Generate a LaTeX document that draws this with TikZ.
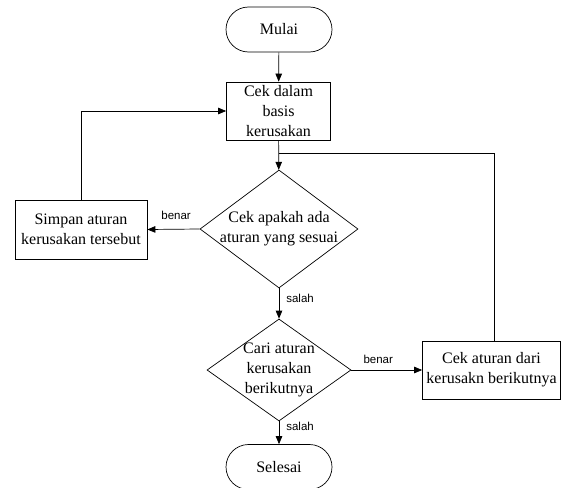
\documentclass[tikz,border=0pt]{standalone}
\usepackage{fontspec}
\setmainfont{Liberation Serif}
\newfontfamily\lblfont{Liberation Sans}
\usetikzlibrary{shapes.geometric,shapes.misc,arrows.meta}
\begin{document}
\begin{tikzpicture}[x=1pt,y=-1pt,
  every node/.style={font=\fontsize{16}{20}\selectfont, align=center, inner sep=0pt},
  term/.style={draw, line width=0.7pt, rounded rectangle, minimum width=106pt, minimum height=45pt},
  proc/.style={draw, line width=0.7pt, rectangle, minimum height=58pt},
  dec/.style={draw, line width=0.7pt, diamond},
  conn/.style={line width=0.7pt},
  arr/.style={conn, -{Triangle[length=8pt,width=6.5pt]}},
  lbl/.style={font=\lblfont\fontsize{11.5}{13}\selectfont}
]
\useasboundingbox[fill=white] (0,0) rectangle (561,487);

\node[term] (mulai) at (279,29.5) {Mulai};
\node[proc, minimum width=104pt] (cek) at (278.5,111) {Cek dalam\\basis\\kerusakan};
\node[dec, minimum width=158pt, minimum height=118pt,
      label={center:{Cek apakah ada\\aturan yang sesuai}}] (d1) at (279,229) {};
\node[proc, minimum width=132pt, minimum height=59pt] (simpan) at (81,229.5) {Simpan aturan\\kerusakan tersebut};
\node[dec, minimum width=144pt, minimum height=102pt,
      label={center:{Cari aturan\\kerusakan\\berikutnya}}] (d2) at (279,370) {};
\node[proc, minimum width=138pt] (ca) at (491.5,370) {Cek aturan dari\\kerusakn berikutnya};
\node[term] (selesai) at (279,467) {Selesai};

\coordinate (J) at (279,153);

\draw[arr] (mulai) -- (cek);
\draw[arr] (cek) -- (d1);
\draw[arr] (simpan.north) |- (cek.west);
\draw[arr] (d1.west) -- node[lbl, pos=0.45, above=9pt] {benar} (simpan.east);
\draw[arr] (d1.south) -- node[lbl, pos=0.32, right=7pt] {salah} (d2.north);
\draw[arr] (d2.east) -- node[lbl, pos=0.38, above=6pt] {benar} (ca.west);
\draw[arr] (d2.south) -- node[lbl, pos=0.22, right=7pt] {salah} (selesai.north);
\draw[conn] ([xshift=2.5pt]ca.north) |- (J);
\end{tikzpicture}
\end{document}
